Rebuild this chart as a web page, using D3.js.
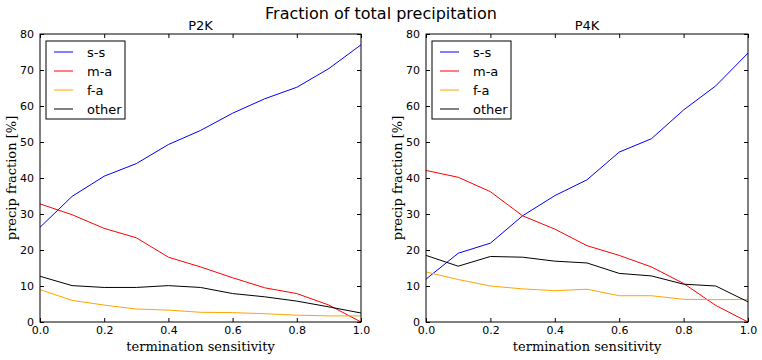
<!DOCTYPE html>
<html><head><meta charset="utf-8">
<script src="https://cdn.jsdelivr.net/npm/d3@7"></script>
<style>body{margin:0;background:#fff}</style>
</head><body><svg id="c" width="762" height="360"></svg>
<script>
const xs = [0.0,0.1,0.2,0.3,0.4,0.5,0.6,0.7,0.8,0.9,1.0];
const seriesNames = ["s-s","m-a","f-a","other"];
const seriesColors = ["#0000ff","#ff0000","#ffa500","#000000"];
const p2k_ss = [26.3,34.9,40.5,44.0,49.3,53.2,58.0,62.0,65.2,70.4,77.0];
const p2k_ma = [32.8,29.8,26.0,23.4,18.0,15.3,12.3,9.5,7.9,4.7,0.0];
const p2k_fa = [9.0,6.0,4.7,3.6,3.3,2.7,2.6,2.3,1.9,1.7,1.7];
const p2k_ot = [12.7,10.1,9.6,9.6,10.1,9.6,7.9,7.0,5.8,4.2,2.5];
const p4k_ss = [11.9,19.1,21.9,29.5,35.1,39.5,47.2,50.9,58.9,65.6,74.7];
const p4k_ma = [42.1,40.2,36.2,29.5,25.8,21.2,18.5,15.3,10.7,4.6,0.0];
const p4k_fa = [13.9,11.8,10.0,9.2,8.7,9.1,7.3,7.3,6.3,6.2,6.3];
const p4k_ot = [18.5,15.5,18.2,18.0,16.9,16.4,13.5,12.8,10.5,10.0,5.6];
const xTicks = [0.0,0.2,0.4,0.6,0.8,1.0];
const yTicks = [0,10,20,30,40,50,60,70,80];
const title = "Fraction of total precipitation";
const panels = [
  {name:"P2K", left:40, right:361, data:[p2k_ss,p2k_ma,p2k_fa,p2k_ot]},
  {name:"P4K", left:426, right:748, data:[p4k_ss,p4k_ma,p4k_fa,p4k_ot]}
];
const plotTop = 34, plotBottom = 322;
const svg = d3.select("#c");
svg.append("text").attr("x",381).attr("y",19).attr("text-anchor","middle")
  .attr("font-family","DejaVu Sans").attr("font-size",16).text(title);

panels.forEach(p=>{
  const x = d3.scaleLinear().domain([0,1]).range([p.left,p.right]);
  const y = d3.scaleLinear().domain([0,80]).range([plotBottom,plotTop]);
  const g = svg.append("g");
  const line = d3.line().x((d,i)=>x(xs[i])).y(d=>y(d));
  p.data.forEach((s,k)=>{
    g.append("path").datum(s).attr("d",line).attr("fill","none")
     .attr("stroke",seriesColors[k]).attr("stroke-width",1);
  });
  const fmtX = d3.format(".1f");
  const ax = g.append("g").attr("transform",`translate(0,${plotBottom})`)
    .call(d3.axisBottom(x).tickValues(xTicks).tickFormat(fmtX).tickSizeInner(-4).tickSizeOuter(0).tickPadding(6));
  const axT = g.append("g").attr("transform",`translate(0,${plotTop})`)
    .call(d3.axisTop(x).tickValues(xTicks).tickFormat("").tickSizeInner(-4).tickSizeOuter(0));
  const ay = g.append("g").attr("transform",`translate(${p.left},0)`)
    .call(d3.axisLeft(y).tickValues(yTicks).tickSizeInner(-4).tickSizeOuter(0).tickPadding(6));
  const ayR = g.append("g").attr("transform",`translate(${p.right},0)`)
    .call(d3.axisRight(y).tickValues(yTicks).tickFormat("").tickSizeInner(-4).tickSizeOuter(0));
  [ax,axT,ay,ayR].forEach(a=>{
    a.select(".domain").remove();
    a.selectAll("text").attr("font-family","DejaVu Sans").attr("font-size",11).attr("fill","#000");
    a.selectAll("line").attr("stroke","#000");
  });
  ax.selectAll("text").attr("dy","0.5em");
  g.append("rect").attr("x",p.left).attr("y",plotTop).attr("width",p.right-p.left).attr("height",plotBottom-plotTop)
   .attr("fill","none").attr("stroke","#000").attr("stroke-width",1);
  g.append("text").attr("x",(p.left+p.right)/2).attr("y",30).attr("text-anchor","middle")
   .attr("font-family","DejaVu Sans").attr("font-size",13).text(p.name);
  g.append("text").attr("x",(p.left+p.right)/2).attr("y",351).attr("text-anchor","middle")
   .attr("font-family","DejaVu Serif").attr("font-size",13).text("termination sensitivity");
  g.append("text").attr("transform",`translate(${p.left-24},${(plotTop+plotBottom)/2}) rotate(-90)`)
   .attr("text-anchor","middle").attr("font-family","DejaVu Serif").attr("font-size",13).text("precip fraction [%]");
  const lx = p.left+6, ly = 41;
  g.append("rect").attr("x",lx).attr("y",ly).attr("width",79).attr("height",78)
   .attr("fill","#fff").attr("stroke","#000").attr("stroke-width",1);
  seriesNames.forEach((n,k)=>{
    const yy = ly+11+k*19;
    g.append("line").attr("x1",lx+8).attr("x2",lx+27).attr("y1",yy).attr("y2",yy)
     .attr("stroke",seriesColors[k]).attr("stroke-width",1);
    g.append("text").attr("x",lx+41).attr("y",yy).attr("dy","0.35em")
     .attr("font-family","DejaVu Sans").attr("font-size",13).text(n);
  });
});
</script></body></html>
